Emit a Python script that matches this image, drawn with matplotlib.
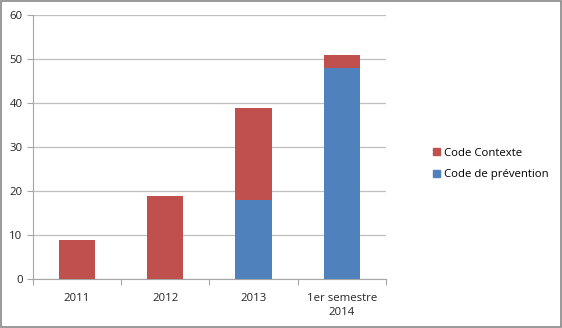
import numpy as np
import matplotlib.pyplot as plt
from matplotlib.patches import Patch

# données
categories = ['2011', '2012', '2013', '1er semestre\n2014']
prevention = [0, 0, 18, 48]
contexte = [9, 19, 21, 3]

red = '#C0504D'
blue = '#4F81BD'
grey = '#A6A6A6'

plt.rcParams['font.family'] = ['Open Sans', 'DejaVu Sans']

fig = plt.figure(figsize=(5.62, 3.28), dpi=100)
ax = fig.add_axes([0.0587, 0.149, 0.628, 0.805])

x = np.arange(len(categories))
ax.bar(x, prevention, width=0.41, color=blue, zorder=3)
ax.bar(x, contexte, width=0.41, bottom=prevention, color=red, zorder=3)

ax.set_xlim(-0.5, len(categories) - 0.5)
ax.set_ylim(0, 60)
ax.set_yticks(range(0, 61, 10))
ax.yaxis.grid(True, color='#BFBFBF', linewidth=0.9, zorder=0)

# ticks entre les catégories, étiquettes centrées
ax.set_xticks(np.arange(-0.5, len(categories), 1))
ax.set_xticklabels([])
ax.set_xticks(x, minor=True)
ax.set_xticklabels(categories, minor=True, fontsize=8.2, color='#262626',
                   linespacing=1.35)
ax.tick_params(axis='x', which='minor', length=0, pad=10)
ax.tick_params(axis='x', which='major', length=4, color=grey)
ax.tick_params(axis='y', length=4, color=grey, labelsize=8.2, labelcolor='#262626')

for side in ['top', 'right']:
    ax.spines[side].set_visible(False)
for side in ['left', 'bottom']:
    ax.spines[side].set_color(grey)

handles = [Patch(color=red, label='Code Contexte'),
           Patch(color=blue, label='Code de prévention')]
fig.legend(handles=handles, loc='center left', bbox_to_anchor=(0.752, 0.5),
           frameon=False, fontsize=8.2, handlelength=0.6, handleheight=0.6,
           handletextpad=0.4, labelspacing=0.95)

# cadre extérieur
fig.patches.append(plt.Rectangle((0.002, 0.003), 0.996, 0.994, transform=fig.transFigure,
                                 fill=False, edgecolor='#888888', linewidth=1.2))

fig.savefig('out.png', dpi=100)
